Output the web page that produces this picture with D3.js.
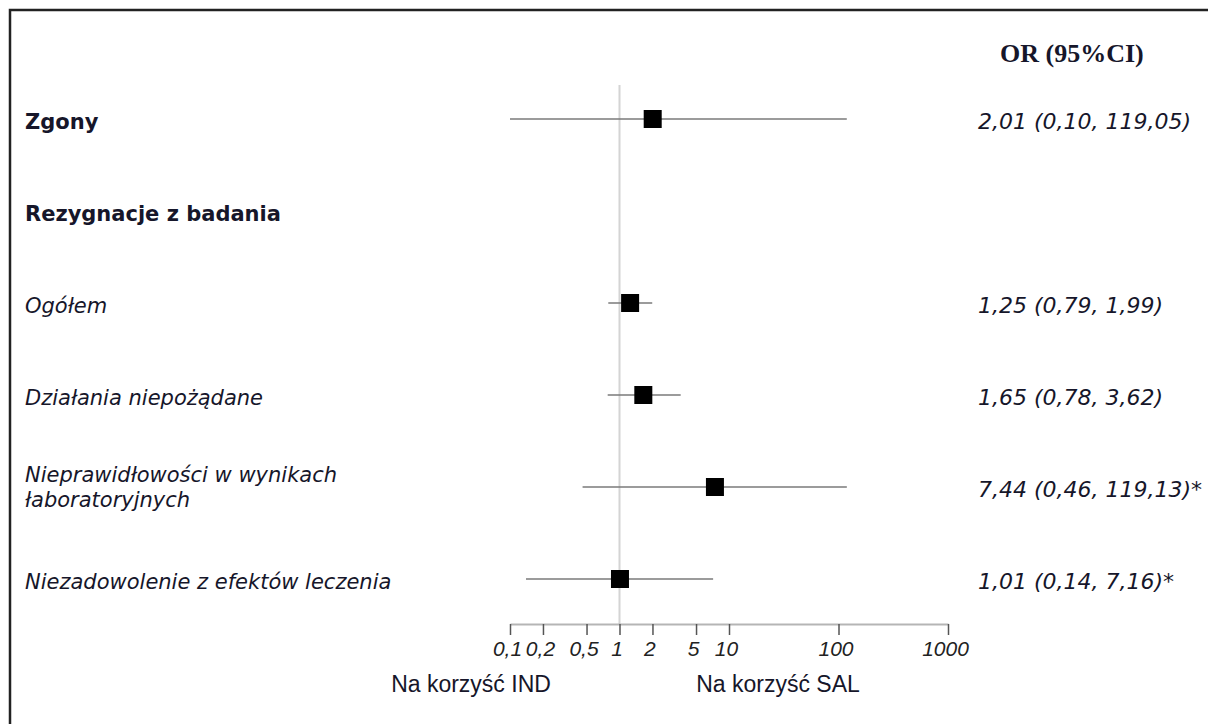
<!DOCTYPE html>
<html>
<head>
<meta charset="utf-8">
<script src="https://cdn.jsdelivr.net/npm/d3@7"></script>
<style>
  html, body { margin: 0; padding: 0; background: #fff; }
  svg { display: block; }
</style>
</head>
<body>
<svg id="chart" width="1208" height="724"></svg>
<script>
// Forest plot: odds ratios with 95% CI, log scale
const rowLabels = [
  ["Zgony"],
  ["Rezygnacje z badania"],
  ["Ogółem"],
  ["Działania niepożądane"],
  ["Nieprawidłowości w wynikach", "łaboratoryjnych"],
  ["Niezadowolenie z efektów leczenia"]
];
const rowBold = [true, true, false, false, false, false];
const orValues = [2.01, null, 1.25, 1.65, 7.44, 1.01];
const ciLower  = [0.10, null, 0.79, 0.78, 0.46, 0.14];
const ciUpper  = [119.05, null, 1.99, 3.62, 119.13, 7.16];
const orTexts  = [
  "2,01 (0,10, 119,05)", "", "1,25 (0,79, 1,99)", "1,65 (0,78, 3,62)",
  "7,44 (0,46, 119,13)*", "1,01 (0,14, 7,16)*"
];
const tickValues = [0.1, 0.2, 0.5, 1, 2, 5, 10, 100, 1000];
const tickLabels = ["0,1", "0,2", "0,5", "1", "2", "5", "10", "100", "1000"];
const columnTitle = "OR (95%CI)";
const favourLeft = "Na korzyść IND";
const favourRight = "Na korzyść SAL";

const svg = d3.select("#chart");
const textColor = "#16162a";

// frame
svg.append("rect")
  .attr("x", 10).attr("y", 10)
  .attr("width", 1240).attr("height", 760)
  .attr("fill", "none").attr("stroke", "#222").attr("stroke-width", 2.5);

const x = d3.scaleLog().domain([0.1, 1000]).range([510, 948]);
const y = d3.scaleBand().domain(d3.range(rowLabels.length)).range([73, 625]);
const yc = i => y(i) + y.bandwidth() / 2;
const axisY = 624;

// line of no effect
svg.append("line")
  .attr("x1", x(1)).attr("x2", x(1))
  .attr("y1", 85).attr("y2", axisY)
  .attr("stroke", "#d4d4d4").attr("stroke-width", 2);

// axis
const axis = d3.axisBottom(x)
  .tickValues(tickValues)
  .tickFormat((d, i) => tickLabels[i])
  .tickSize(11)
  .tickSizeOuter(0);
const gAxis = svg.append("g").attr("transform", `translate(0,${axisY})`).call(axis);
gAxis.select(".domain").attr("stroke", "#b5b5b5").attr("stroke-width", 2);
gAxis.selectAll(".tick line").attr("stroke", "#555").attr("stroke-width", 1.5);
gAxis.selectAll(".tick text")
  .attr("font-family", "'Liberation Sans', Arial, sans-serif")
  .attr("font-style", "italic")
  .attr("font-size", 21)
  .attr("fill", "#222")
  .attr("y", 17)
  .attr("dx", -3);

// favour labels
svg.append("text").attr("x", 471).attr("y", 692)
  .attr("text-anchor", "middle")
  .attr("font-family", "'Liberation Sans', Arial, sans-serif")
  .attr("font-size", 23).attr("fill", textColor)
  .text(favourLeft);
svg.append("text").attr("x", 778).attr("y", 692)
  .attr("text-anchor", "middle")
  .attr("font-family", "'Liberation Sans', Arial, sans-serif")
  .attr("font-size", 23).attr("fill", textColor)
  .text(favourRight);

// column title
svg.append("text").attr("x", 1000).attr("y", 62)
  .attr("font-family", "'Liberation Serif', 'Times New Roman', serif")
  .attr("font-weight", "bold").attr("font-size", 26).attr("fill", textColor)
  .text(columnTitle);

// row labels
rowLabels.forEach((lines, i) => {
  const n = lines.length;
  const t = svg.append("text")
    .attr("x", 25)
    .attr("font-family", "'DejaVu Sans', Verdana, sans-serif")
    .attr("font-size", 21)
    .attr("font-weight", rowBold[i] ? "bold" : "normal")
    .attr("font-style", rowBold[i] ? "normal" : "italic")
    .attr("fill", textColor);
  lines.forEach((ln, k) => {
    t.append("tspan")
      .attr("x", 25)
      .attr("y", yc(i) + 10 + (k - (n - 1) / 2) * 25 - (n > 1 ? 3 : 0))
      .text(ln);
  });
});

// OR text column
svg.selectAll("text.or").data(orTexts).join("text")
  .attr("class", "or")
  .attr("x", 978)
  .attr("y", (d, i) => yc(i) + 10)
  .attr("font-family", "'DejaVu Sans', Verdana, sans-serif")
  .attr("font-style", "italic")
  .attr("font-size", 22)
  .attr("fill", textColor)
  .text(d => d);

// confidence intervals and point estimates
const rows = d3.range(rowLabels.length).filter(i => orValues[i] !== null);
svg.selectAll("line.ci").data(rows).join("line")
  .attr("class", "ci")
  .attr("x1", i => x(ciLower[i])).attr("x2", i => x(ciUpper[i]))
  .attr("y1", i => yc(i)).attr("y2", i => yc(i))
  .attr("stroke", "#7a7a7a").attr("stroke-width", 1.6);

const sq = 18;
svg.selectAll("rect.pt").data(rows).join("rect")
  .attr("class", "pt")
  .attr("x", i => x(orValues[i]) - sq / 2)
  .attr("y", i => yc(i) - sq / 2)
  .attr("width", sq).attr("height", sq)
  .attr("fill", "#000");
</script>
</body>
</html>
